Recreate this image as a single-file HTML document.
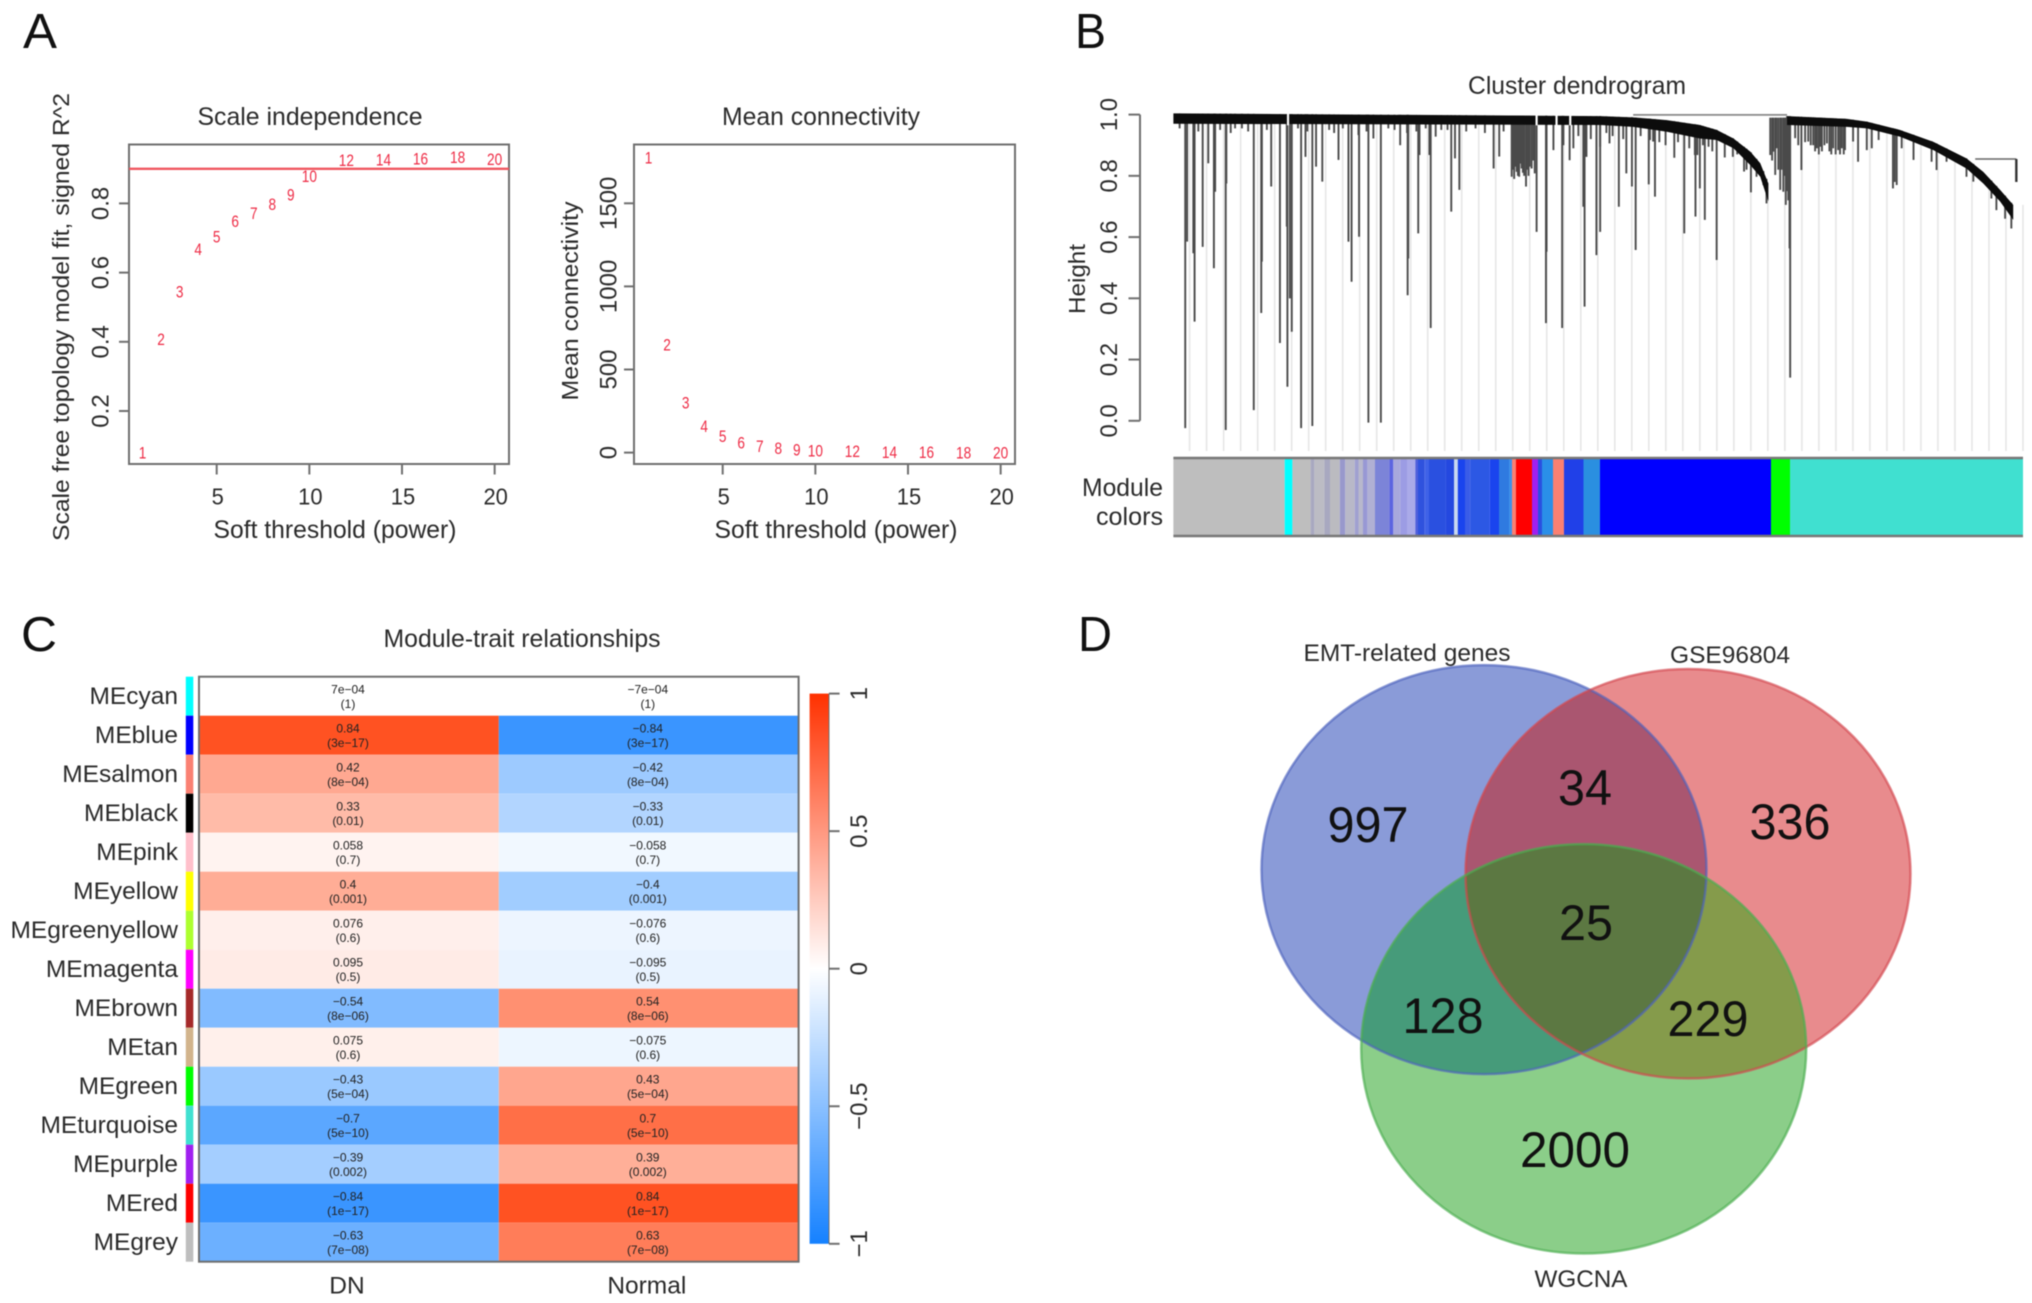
<!DOCTYPE html>
<html lang="en">
<head>
<meta charset="utf-8">
<title>WGCNA multi-panel figure</title>
<style>
html,body{margin:0;padding:0;background:#fff;}
svg{display:block;filter:blur(0.6px);}
text{font-family:"Liberation Sans",Arial,sans-serif;fill:#2b2b2b;}
.big{font-size:49px;fill:#111;}
.ttl{font-size:25px;}
</style>
</head>
<body>
<svg id="fig" xmlns="http://www.w3.org/2000/svg" width="2032" height="1303" viewBox="0 0 2032 1303">
  <rect width="2032" height="1303" fill="#fff"/>
  <text class="big" x="23" y="48" textLength="34" lengthAdjust="spacingAndGlyphs">A</text>
  <text class="big" x="1075" y="48" textLength="31" lengthAdjust="spacingAndGlyphs">B</text>
  <text class="big" x="21" y="651" textLength="36" lengthAdjust="spacingAndGlyphs">C</text>
  <text class="big" x="1078" y="651" textLength="34" lengthAdjust="spacingAndGlyphs">D</text>

  <text class="ttl" x="310" y="125" text-anchor="middle" textLength="225" lengthAdjust="spacingAndGlyphs">Scale independence</text>
  <text class="ttl" x="821" y="125" text-anchor="middle" textLength="198" lengthAdjust="spacingAndGlyphs">Mean connectivity</text>
  <text class="ttl" x="335" y="538" text-anchor="middle" textLength="243" lengthAdjust="spacingAndGlyphs">Soft threshold (power)</text>
  <text class="ttl" x="836" y="538" text-anchor="middle" textLength="243" lengthAdjust="spacingAndGlyphs">Soft threshold (power)</text>
  <text font-size="23" transform="translate(69 317) rotate(-90)" text-anchor="middle" textLength="448" lengthAdjust="spacingAndGlyphs">Scale free topology model fit, signed R^2</text>
  <text font-size="23" transform="translate(578 301) rotate(-90)" text-anchor="middle" textLength="199" lengthAdjust="spacingAndGlyphs">Mean connectivity</text>

  <text class="ttl" x="1577" y="94" text-anchor="middle" textLength="218" lengthAdjust="spacingAndGlyphs">Cluster dendrogram</text>
  <text font-size="23" transform="translate(1085 279) rotate(-90)" text-anchor="middle" textLength="70" lengthAdjust="spacingAndGlyphs">Height</text>
  <text class="ttl" x="1163" y="496" text-anchor="end" textLength="81" lengthAdjust="spacingAndGlyphs">Module</text>
  <text class="ttl" x="1163" y="525" text-anchor="end" textLength="67" lengthAdjust="spacingAndGlyphs">colors</text>

  <text class="ttl" x="522" y="647" text-anchor="middle" textLength="277" lengthAdjust="spacingAndGlyphs">Module-trait relationships</text>

  <g id="panelA"></g>
  <g id="panelB"></g>
  <g id="panelC"></g>

  <defs>
    <clipPath id="clipBlue"><ellipse cx="1484" cy="869.6" rx="222.5" ry="204.5"/></clipPath>
    <clipPath id="clipRed"><ellipse cx="1688" cy="873.7" rx="222.5" ry="204.7"/></clipPath>
    <linearGradient id="colorbarGradient" x1="0" y1="0" x2="0" y2="1">
      <stop id="gradTop" offset="0"/><stop offset="0.5" stop-color="#ffffff"/><stop id="gradBottom" offset="1"/>
    </linearGradient>
  </defs>
  <g>
    <ellipse cx="1484" cy="869.6" rx="222.5" ry="204.5" fill="#8a9bd8"/>
    <ellipse cx="1688" cy="873.7" rx="222.5" ry="204.7" fill="#e88b8d"/>
    <ellipse cx="1583.7" cy="1048.8" rx="222.5" ry="204.7" fill="#8bce89"/>
    <ellipse cx="1688" cy="873.7" rx="222.5" ry="204.7" fill="#aa5670" clip-path="url(#clipBlue)"/>
    <ellipse cx="1583.7" cy="1048.8" rx="222.5" ry="204.7" fill="#469b7a" clip-path="url(#clipBlue)"/>
    <ellipse cx="1583.7" cy="1048.8" rx="222.5" ry="204.7" fill="#859b4b" clip-path="url(#clipRed)"/>
    <g clip-path="url(#clipBlue)"><ellipse cx="1583.7" cy="1048.8" rx="222.5" ry="204.7" fill="#5c7842" clip-path="url(#clipRed)"/></g>
    <ellipse cx="1484" cy="869.6" rx="222.5" ry="204.5" fill="none" stroke="#4d63bd" stroke-width="2.5" stroke-opacity="0.65"/>
    <ellipse cx="1688" cy="873.7" rx="222.5" ry="204.7" fill="none" stroke="#d2474f" stroke-width="2.5" stroke-opacity="0.65"/>
    <ellipse cx="1583.7" cy="1048.8" rx="222.5" ry="204.7" fill="none" stroke="#4cae50" stroke-width="2.5" stroke-opacity="0.65"/>
    <text x="1407" y="661" font-size="24" text-anchor="middle" textLength="207" lengthAdjust="spacingAndGlyphs">EMT-related genes</text>
    <text x="1730" y="663" font-size="24" text-anchor="middle" textLength="120" lengthAdjust="spacingAndGlyphs">GSE96804</text>
    <text x="1581" y="1287" font-size="24" text-anchor="middle" textLength="93" lengthAdjust="spacingAndGlyphs">WGCNA</text>
    <text x="1368" y="842" font-size="50" style="fill:#111" text-anchor="middle" textLength="81" lengthAdjust="spacingAndGlyphs">997</text>
    <text x="1585" y="805" font-size="50" style="fill:#111" text-anchor="middle" textLength="54" lengthAdjust="spacingAndGlyphs">34</text>
    <text x="1790" y="839" font-size="50" style="fill:#111" text-anchor="middle" textLength="81" lengthAdjust="spacingAndGlyphs">336</text>
    <text x="1586" y="940" font-size="50" style="fill:#111" text-anchor="middle" textLength="54" lengthAdjust="spacingAndGlyphs">25</text>
    <text x="1443" y="1033" font-size="50" style="fill:#111" text-anchor="middle" textLength="81" lengthAdjust="spacingAndGlyphs">128</text>
    <text x="1708" y="1036" font-size="50" style="fill:#111" text-anchor="middle" textLength="81" lengthAdjust="spacingAndGlyphs">229</text>
    <text x="1575" y="1167" font-size="50" style="fill:#111" text-anchor="middle" textLength="110" lengthAdjust="spacingAndGlyphs">2000</text>
  </g>
</svg>
<script>
// ---------- Panel A data ----------
const softPowers = [1,2,3,4,5,6,7,8,9,10,12,14,16,18,20];
const scaleFitValues = [0.08,0.409,0.546,0.668,0.704,0.75,0.773,0.799,0.826,0.879,0.926,0.927,0.93,0.935,0.928];
const connectivityValues = [1777,650,301,160,100,62,40,29,18,13,9,5,3,2,1];
const powerTicks = [5,10,15,20];
const scaleFitTicks = [0.2,0.4,0.6,0.8];
const connectivityTicks = [0,500,1000,1500];
const fitThreshold = 0.9;

// ---------- Panel B data ----------
const heightTicks = [0,0.2,0.4,0.6,0.8,1];
const bandSection1Leaves = [0,685,738,792,845,872,899,926,942,955];
const bandSection1Upper = [1.004,0.995,0.991,0.982,0.966,0.95,0.922,0.879,0.841,0.775];
const bandSection1Lower = [0.97,0.966,0.96,0.944,0.922,0.917,0.89,0.835,0.797,0.716];
const bandSection2Leaves = [985,1081,1113,1166,1220,1273,1300,1327,1348];
const bandSection2Upper = [0.995,0.986,0.977,0.95,0.911,0.857,0.813,0.754,0.705];
const bandSection2Lower = [0.966,0.96,0.955,0.928,0.884,0.824,0.775,0.716,0.656];
const bandGapLeaves = [184,583,615,637];
const branchLeaves = [
  19,22,32,34,47,56,67,65,85,84,99,129,142,141,157,171,182,183,187,190,205,212,223,229,239,265,281,286,298,297,313,333,321,364,377,376,395,393,411,413,421,452,446,459,514,523,
  543,545,547,549,551,553,555,557,559,561,563,566,568,570,572,575,578,580,583,599,598,610,624,626,636,642,658,660,663,679,
  685,685,700,715,727,736,742,763,773,770,765,804,820,838,845,841,837,853,859,872,898,916,927,936,947,952,
  958,961,963,966,968,971,974,976,979,981,983,985,987,989,990,
  998,1003,1008,1014,1019,1023,1027,1030,1033,1036,1038,1041,1045,1049,1053,1056,1059,1063,1067,1070,1073,1076,1078,1091,1099,1113,1121,1132,1155,1158,1161,1169,1188,1217,1225,1241,1273,1284,1313,1321,1335,1345,
  10,40,75,92,110,120,150,200,215,250,258,272,310,345,355,375,390,405,430,440,470,485,500,530,650,670,695,705,722,750,780,790,810,828,850,865,885,905,920
];
const branchHeights = [
  -0.024,0.585,0.547,0.324,0.568,0.841,0.748,0.498,0.775,-0.03,0.955,0.035,0.52,0.352,0.765,0.254,0.634,0.111,0.4,0.291,-0.024,0.862,-0.017,0.83,0.781,0.852,0.585,0.454,0.601,0.933,-0.006,-0.006,0.922,0.9,0.53,0.41,0.868,0.612,0.868,0.303,0.928,0.857,0.683,0.754,0.824,0.863,
  0.797,0.82,0.79,0.83,0.813,0.8,0.797,0.84,0.824,0.81,0.8,0.765,0.82,0.8,0.83,0.824,0.85,0.808,0.617,0.552,0.319,0.884,0.303,0.9,0.851,0.89,0.699,0.373,0.862,0.541,
  0.895,0.617,0.906,0.699,0.808,0.765,0.558,0.772,0.732,0.912,0.917,0.859,0.612,0.667,0.759,0.868,0.868,0.656,0.895,0.525,0.862,0.814,0.746,0.797,0.77,0.71,
  0.868,0.85,0.879,0.803,0.89,0.82,0.754,0.82,0.748,0.8,0.705,0.75,0.72,0.563,0.141,
  0.923,0.9,0.819,0.91,0.912,0.9,0.9,0.88,0.89,0.87,0.895,0.88,0.9,0.906,0.88,0.87,0.89,0.87,0.884,0.87,0.89,0.87,0.884,0.912,0.846,0.884,0.89,0.917,0.759,0.78,0.77,0.89,0.852,0.846,0.819,0.846,0.797,0.781,0.726,0.688,0.66,0.628,
  0.955,0.945,0.95,0.94,0.955,0.945,0.95,0.955,0.945,0.95,0.94,0.955,0.945,0.955,0.95,0.94,0.945,0.955,0.95,0.95,0.945,0.955,0.94,0.945,0.93,0.92,0.94,0.93,0.92,0.93,0.91,0.9,0.91,0.89,0.9,0.88,0.86,0.87,0.82
];
const guideLeafCount = 50;
const hangingLeaf = 1353;
const hangingBranchTop = 0.855;
const hangingBranchBottom = 0.78;
const moduleSegmentEnds = [1284.7,1292.4,1310.6,1314.4,1324.4,1330,1339.8,1345.3,1354.7,1358.5,1363,1367.4,1375,1389.4,1393.3,1400.4,1407,1415.3,1418,1424.7,1429,1445.6,1454,1457.8,1465,1470.4,1489.7,1499,1509,1512,1516,1532,1538,1542,1553,1564,1583.5,1600,1771,1790,2023];
const moduleSegmentColors = ['#bebebe','#00ffff','#bebebe','#a8a8c0','#bcbcc4','#a8a8c0','#bbbbc0','#9898cc','#b8b8c8','#a0a0d0','#b8b8cc','#9898d4','#b0b0d4','#7c84d8','#5c64e0','#a8a8dc','#9c9ce4','#aaaae8','#5060dc','#2f52de','#3f62e8','#2a50e0','#2448e0','#c8d8f0','#1a44ee','#3a5ce8','#2c58e4','#1a44ee','#2f7ae0','#3f90e8','#fa8072','#ff0000','#a020f0','#2a50e0','#2a8fe8','#fa8072','#2040e8','#2a8fe0','#0000ff','#00ff00','#40e0d0'];

// ---------- Panel C data ----------
const moduleNames = ['MEcyan','MEblue','MEsalmon','MEblack','MEpink','MEyellow','MEgreenyellow','MEmagenta','MEbrown','MEtan','MEgreen','MEturquoise','MEpurple','MEred','MEgrey'];
const moduleColors = ['#00ffff','#0000ff','#fa8072','#000000','#ffc0cb','#ffff00','#adff2f','#ff00ff','#a52a2a','#d2b48c','#00ff00','#40e0d0','#a020f0','#ff0000','#bebebe'];
const dnCorrelations = [0.0007,0.84,0.42,0.33,0.058,0.4,0.076,0.095,-0.54,0.075,-0.43,-0.7,-0.39,-0.84,-0.63];
const normalCorrelations = [-0.0007,-0.84,-0.42,-0.33,-0.058,-0.4,-0.076,-0.095,0.54,-0.075,0.43,0.7,0.39,0.84,0.63];
const dnCorrelationLabels = ['7e\u221204','0.84','0.42','0.33','0.058','0.4','0.076','0.095','\u22120.54','0.075','\u22120.43','\u22120.7','\u22120.39','\u22120.84','\u22120.63'];
const normalCorrelationLabels = ['\u22127e\u221204','\u22120.84','\u22120.42','\u22120.33','\u22120.058','\u22120.4','\u22120.076','\u22120.095','0.54','\u22120.075','0.43','0.7','0.39','0.84','0.63'];
const pValueLabels = ['(1)','(3e\u221217)','(8e\u221204)','(0.01)','(0.7)','(0.001)','(0.6)','(0.5)','(8e\u221206)','(0.6)','(5e\u221204)','(5e\u221210)','(0.002)','(1e\u221217)','(7e\u221208)'];
const traitNames = ['DN','Normal'];
const colorbarTicks = [-1,-0.5,0,0.5,1];
const colorbarTickLabels = ['\u22121','\u22120.5','0','0.5','1'];

// ---------- Axis functions ----------
const xScale = v => 216.7 + (v - 5) * 18.53;
const yScale = v => 411 - (v - 0.2) * 346;
const xConn = v => 722.7 + (v - 5) * 18.53;
const yConn = v => 452.6 - v * 0.1662;
const leafX = l => 1173.4 + l * 0.623;
const heightY = h => 420.8 - h * 306.2;
const rowY = i => 676.7 + i * 39;
const traitX = j => 199 + j * 299.8;
const colorbarY = v => 968.7 - v * 275.1;

const NS = 'http://www.w3.org/2000/svg';
const gA = document.getElementById('panelA');
const gB = document.getElementById('panelB');
const gC = document.getElementById('panelC');

function make(parent, tag, attrs) {
  const el = document.createElementNS(NS, tag);
  for (const k in attrs) el.setAttribute(k, attrs[k]);
  parent.appendChild(el);
  return el;
}
function label(parent, str, x, y, size, rotate, width, fill) {
  const attrs = {'font-size': size, 'text-anchor': 'middle', dy: '0.36em'};
  if (rotate) attrs.transform = 'translate(' + x + ' ' + y + ') rotate(-90)';
  else { attrs.x = x; attrs.y = y; }
  if (width) { attrs.textLength = width; attrs.lengthAdjust = 'spacingAndGlyphs'; }
  const el = make(parent, 'text', attrs);
  if (fill) el.style.fill = fill;
  el.textContent = str;
  return el;
}
const ink = '#6f6f6f';

// ---------- Panel A ----------
function drawThresholdPlot(prefix, x0, x1, xFn, yFn, values, yTicks, yLabelX) {
  const box = make(gA, 'rect', {x: x0, y: 144.5, width: x1 - x0, height: 319.5, fill: 'none', stroke: ink, 'stroke-width': 2});
  
  
  powerTicks.forEach(t => {
    const tick = make(gA, 'line', {x1: xFn(t), x2: xFn(t), y1: 464, y2: 474.5, stroke: ink, 'stroke-width': 2});
    
    
    const tl = label(gA, String(t), xFn(t) + 1, 496, 23.5, false, String(t).length * 12.2);
    
    
  });
  yTicks.forEach(t => {
    const tick = make(gA, 'line', {x1: x0 - 10, x2: x0, y1: yFn(t), y2: yFn(t), stroke: ink, 'stroke-width': 2});
    
    
    const tl = label(gA, String(t), yLabelX, yFn(t), 24, true);
    
    
  });
  softPowers.forEach((p, i) => {
    const pt = label(gA, String(p), xFn(p), yFn(values[i]), 17, false, String(p).length * 7.6, '#ee2b45');
    
    
  });
}
drawThresholdPlot('scale-fit', 129, 509, xScale, yScale, scaleFitValues, scaleFitTicks, 100);
drawThresholdPlot('connectivity', 634, 1015, xConn, yConn, connectivityValues, connectivityTicks, 608);
const thresholdLine = make(gA, 'line', {x1: 129, x2: 509, y1: yScale(fitThreshold), y2: yScale(fitThreshold), stroke: '#f0565f', 'stroke-width': 2.4});



// ---------- Panel B ----------
function interp(xs, ys, l) {
  for (let i = 1; i < xs.length; i++) {
    if (l <= xs[i]) return ys[i-1] + (ys[i] - ys[i-1]) * (l - xs[i-1]) / (xs[i] - xs[i-1]);
  }
  return ys[ys.length - 1];
}
function envelopeTop(l) {
  if (l <= 955) return interp(bandSection1Leaves, bandSection1Upper, l);
  if (l < 985) return 0.99;
  return interp(bandSection2Leaves, bandSection2Upper, l);
}
for (let k = 0; k < guideLeafCount; k++) {
  const l = 26 + k * 27.3;
  const guide = make(gB, 'line', {x1: leafX(l), x2: leafX(l), y1: heightY(envelopeTop(l)), y2: 451, stroke: '#e6e6e6', 'stroke-width': 1.6});
  
  
}
const axisB = make(gB, 'line', {x1: 1140, x2: 1140, y1: heightY(heightTicks[0]), y2: heightY(heightTicks[heightTicks.length - 1]), stroke: ink, 'stroke-width': 2});


heightTicks.forEach(t => {
  const tick = make(gB, 'line', {x1: 1128.5, x2: 1140, y1: heightY(t), y2: heightY(t), stroke: ink, 'stroke-width': 2});
  
  
  const tl = label(gB, t.toFixed(1), 1108.6, heightY(t), 24, true);
  
  
});
branchLeaves.forEach((l, i) => {
  const h = branchHeights[i];
  const branch = make(gB, 'line', {x1: leafX(l), x2: leafX(l), y1: heightY(envelopeTop(l)), y2: heightY(h), stroke: '#4a4a4a', 'stroke-width': 1.9});
  
  
});
function drawBand(leaves, upper, lower, name) {
  const top = leaves.map((l, i) => leafX(l) + ',' + heightY(upper[i]));
  const bottom = leaves.map((l, i) => leafX(l) + ',' + heightY(lower[i])).reverse();
  const band = make(gB, 'polygon', {points: top.concat(bottom).join(' '), fill: '#0c0c0c'});
  
  
}
drawBand(bandSection1Leaves, bandSection1Upper, bandSection1Lower, 'dendrogram-band-left');
drawBand(bandSection2Leaves, bandSection2Upper, bandSection2Lower, 'dendrogram-band-right');
bandGapLeaves.forEach(l => {
  const gap = make(gB, 'line', {x1: leafX(l), x2: leafX(l), y1: heightY(1.01), y2: heightY(0.965), stroke: '#ffffff', 'stroke-width': 2.2});
  
  
});
const connectorA = make(gB, 'polyline', {points: leafX(738) + ',' + heightY(0.999) + ' ' + leafX(985) + ',' + heightY(0.999), fill: 'none', stroke: '#888', 'stroke-width': 1.8});


const connectorB = make(gB, 'polyline', {points: leafX(1287) + ',' + heightY(hangingBranchTop) + ' ' + leafX(hangingLeaf) + ',' + heightY(hangingBranchTop), fill: 'none', stroke: '#666', 'stroke-width': 1.6});


const hangingBranch = make(gB, 'line', {x1: leafX(hangingLeaf), x2: leafX(hangingLeaf), y1: heightY(hangingBranchTop), y2: heightY(hangingBranchBottom), stroke: '#333', 'stroke-width': 2.4});



let segStart = 1173.4;
moduleSegmentEnds.forEach((end, i) => {
  const seg = make(gB, 'rect', {x: segStart, y: 458, width: end - segStart, height: 78, fill: moduleSegmentColors[i]});
  
  
  segStart = end;
});
const barTop = make(gB, 'line', {x1: 1173.4, x2: 2023, y1: 458, y2: 458, stroke: '#777', 'stroke-width': 2.5});


const barBottom = make(gB, 'line', {x1: 1173.4, x2: 2023, y1: 536, y2: 536, stroke: '#777', 'stroke-width': 2.5});



// ---------- Panel C ----------
function heatColor(v) {
  const a = Math.min(1, Math.abs(v));
  if (v >= 0) return 'rgb(255,' + Math.round(255 - 206 * a) + ',' + Math.round(Math.max(0, 255 - 263 * a)) + ')';
  return 'rgb(' + Math.round(255 - 234 * a) + ',' + Math.round(255 - 126 * a) + ',255)';
}
document.getElementById('gradTop').setAttribute('stop-color', heatColor(1));
document.getElementById('gradBottom').setAttribute('stop-color', heatColor(-1));
moduleNames.forEach((name, i) => {
  const rowName = name.toLowerCase();
  const swatch = make(gC, 'rect', {x: 185.8, y: rowY(i), width: 7.5, height: 39, fill: moduleColors[i]});
  
  
  const rl = make(gC, 'text', {x: 178, y: rowY(i) + 18.5, dy: '0.36em', 'font-size': 24.5, 'text-anchor': 'end'});
  rl.textContent = name;
  
  
  [dnCorrelations, normalCorrelations].forEach((series, j) => {
    const cell = make(gC, 'rect', {x: traitX(j), y: rowY(i), width: 299.8, height: 39, fill: heatColor(series[i])});
    
    
    const cx = traitX(j) + 149;
    const labels = j === 0 ? dnCorrelationLabels : normalCorrelationLabels;
    const cv = label(gC, labels[i], cx, rowY(i) + 12.5, 12, false, null, '#222');
    
    
    const cp = label(gC, pValueLabels[i], cx, rowY(i) + 26.8, 12, false, null, '#222');
    
    
  });
});
const heatFrame = make(gC, 'rect', {x: 199, y: 676.7, width: 599.6, height: 585, fill: 'none', stroke: ink, 'stroke-width': 2});


traitNames.forEach((t, j) => {
  const tl = label(gC, t, traitX(j) + 148, 1284.6, 24.5);
  
  
});
const colorbar = make(gC, 'rect', {x: 809.6, y: colorbarY(1), width: 19.4, height: colorbarY(-1) - colorbarY(1), fill: 'url(#colorbarGradient)'});


colorbarTicks.forEach((t, i) => {
  const tick = make(gC, 'line', {x1: 829, x2: 839.6, y1: colorbarY(t), y2: colorbarY(t), stroke: ink, 'stroke-width': 2});
  
  
  const tl = label(gC, colorbarTickLabels[i], 858.6, colorbarY(t), 24, true);
  
  
});
const colorbarEdge = make(gC, 'line', {x1: 829, x2: 829, y1: colorbarY(1), y2: colorbarY(-1), stroke: ink, 'stroke-width': 1});


</script>
</body>
</html>
